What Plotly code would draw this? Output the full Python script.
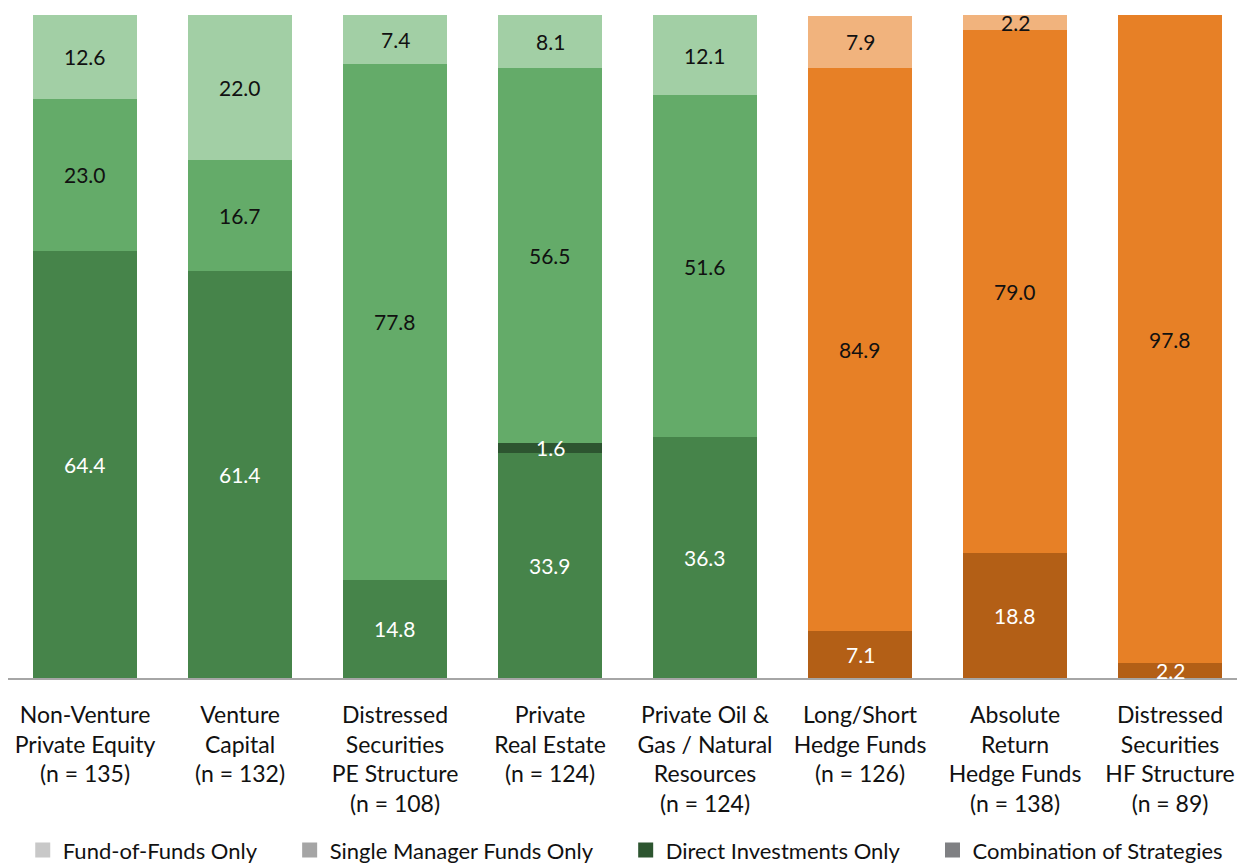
import plotly.graph_objects as go

# Categories (x-axis labels)
categories = [
    "Non-Venture<br>Private Equity<br>(n = 135)",
    "Venture<br>Capital<br>(n = 132)",
    "Distressed<br>Securities<br>PE Structure<br>(n = 108)",
    "Private<br>Real Estate<br>(n = 124)",
    "Private Oil &<br>Gas / Natural<br>Resources<br>(n = 124)",
    "Long/Short<br>Hedge Funds<br>(n = 126)",
    "Absolute<br>Return<br>Hedge Funds<br>(n = 138)",
    "Distressed<br>Securities<br>HF Structure<br>(n = 89)",
]

# Series values (percent of respondents), stacked bottom to top
combination = [64.4, 61.4, 14.8, 33.9, 36.3, 7.1, 18.8, 2.2]
direct = [0, 0, 0, 1.6, 0, 0, 0, 0]
single = [23.0, 16.7, 77.8, 56.5, 51.6, 84.9, 79.0, 97.8]
fof = [12.6, 22.0, 7.4, 8.1, 12.1, 7.9, 2.2, 0]

series = [
    ("Combination of Strategies", combination),
    ("Direct Investments Only", direct),
    ("Single Manager Funds Only", single),
    ("Fund-of-Funds Only", fof),
]

# Per-bar colour families: private-investment bars in green, hedge-fund bars in orange
is_pe = [True, True, True, True, True, False, False, False]
palette = {
    "Combination of Strategies": ("#46844A", "#B35F16"),
    "Direct Investments Only": ("#2D5530", "#7A400E"),
    "Single Manager Funds Only": ("#64AB69", "#E78026"),
    "Fund-of-Funds Only": ("#A2CFA5", "#F1B37D"),
}
label_color = {
    "Combination of Strategies": "white",
    "Direct Investments Only": "white",
    "Single Manager Funds Only": "#111111",
    "Fund-of-Funds Only": "#111111",
}
legend_swatch = {
    "Fund-of-Funds Only": "#C8C8C8",
    "Single Manager Funds Only": "#A5A5A5",
    "Direct Investments Only": "#2D5530",
    "Combination of Strategies": "#7F8083",
}
legend_order = ["Fund-of-Funds Only", "Single Manager Funds Only",
                "Direct Investments Only", "Combination of Strategies"]

FONT = "Source Sans Pro, Lato, Noto Sans, sans-serif"
x_idx = list(range(len(categories)))

fig = go.Figure()
annotations = []
base = [0.0] * len(categories)
for name, vals in series:
    colors = [palette[name][0] if pe else palette[name][1] for pe in is_pe]
    fig.add_trace(go.Bar(
        x=x_idx, y=vals, name=name, marker=dict(color=colors, line=dict(width=0)),
        width=0.67, showlegend=False, hoverinfo="skip",
    ))
    for i, v in enumerate(vals):
        if v > 0:
            annotations.append(dict(
                x=i, y=base[i] + v / 2, xref="x", yref="y", text=f"{v:.1f}",
                showarrow=False, font=dict(family=FONT, size=21, color=label_color[name]),
            ))
        base[i] += v

# Legend entries with neutral grey swatches (trailing no-break spaces widen the gap)
pad = "\u00a0" * 5
for k, name in enumerate(legend_order):
    fig.add_trace(go.Scatter(
        x=[None], y=[None], mode="markers",
        name=name + (pad if k < len(legend_order) - 1 else ""),
        marker=dict(symbol="square", size=15, color=legend_swatch[name]),
        hoverinfo="skip",
    ))

fig.update_layout(
    barmode="stack",
    width=1237, height=863,
    margin=dict(l=8, r=0, t=15, b=185, autoexpand=False),
    plot_bgcolor="white", paper_bgcolor="white",
    font=dict(family=FONT, size=23, color="#111111"),
    annotations=annotations,
    showlegend=True,
    legend=dict(orientation="h", x=0.012, xanchor="left", y=-0.228, yanchor="top",
                font=dict(family=FONT, size=22, color="#111111"),
                itemwidth=30, traceorder="normal"),
    xaxis=dict(
        tickmode="array", tickvals=x_idx, ticktext=categories,
        range=[-0.497, 7.432], showline=True, linecolor="#A6A6A6", linewidth=2,
        ticks="", showgrid=False, zeroline=False, automargin=False,
        ticklabelstandoff=15,
        tickfont=dict(family=FONT, size=23, color="#111111"),
    ),
    yaxis=dict(range=[0, 100], visible=False, showgrid=False, zeroline=False,
               automargin=False),
)

fig.write_html("out.html")
